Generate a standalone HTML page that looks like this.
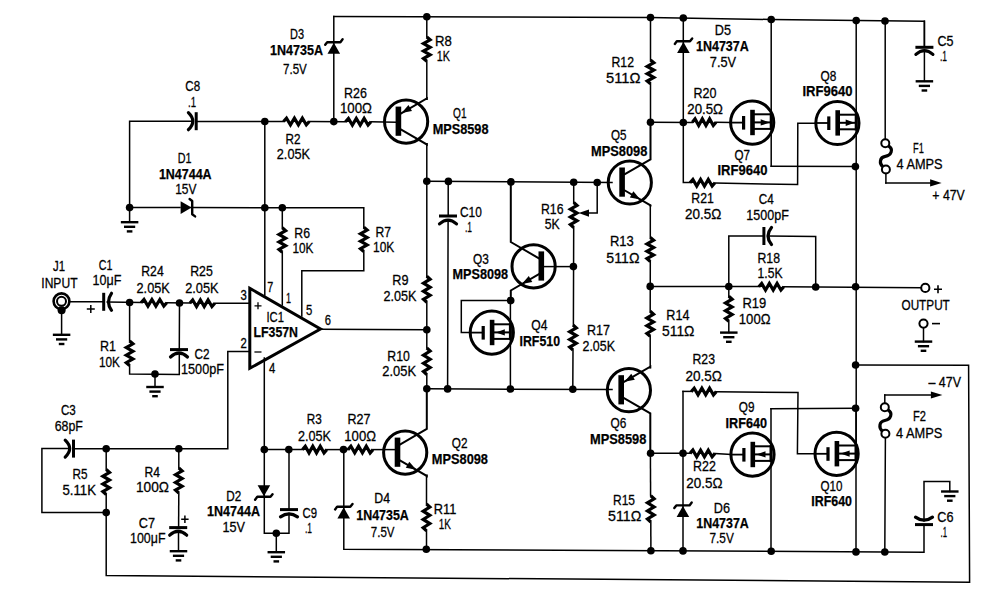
<!DOCTYPE html>
<html><head><meta charset="utf-8"><style>
html,body{margin:0;padding:0;background:#fff;}
body{width:1004px;height:596px;overflow:hidden;}
svg{display:block;}
text{font-family:"Liberation Sans",sans-serif;fill:#000;}
</style></head><body>
<svg width="1004" height="596" viewBox="0 0 1004 596">
<rect width="1004" height="596" fill="#fff"/>
<polyline points="333.8,16.5 496,17 650,17.5 771,19.5 924.4,21.2 924.4,47.3" fill="none" stroke="#000" stroke-width="1.5" stroke-linejoin="miter" stroke-linecap="square"/>
<polyline points="333.8,16.5 333.8,121.5" fill="none" stroke="#000" stroke-width="1.5" stroke-linejoin="miter" stroke-linecap="square"/>
<g transform="translate(333.8,42.8) rotate(-90)"><path d="M-11,-6.3 L0,0 L-11,6.3 Z"/><polyline points="-2,-8.6 0.6,-6.6 0.6,6.6 3.5,8.8" fill="none" stroke="#000" stroke-width="2.4" stroke-linejoin="round" stroke-linecap="round"/></g>
<circle cx="426.8" cy="16.8" r="3.8"/>
<circle cx="650.5" cy="17.6" r="3.8"/>
<circle cx="683.3" cy="18" r="3.8"/>
<circle cx="771.2" cy="19.5" r="3.8"/>
<circle cx="856.2" cy="20.6" r="3.8"/>
<circle cx="885" cy="21" r="3.8"/>
<polyline points="426.8,16.8 426.8,37" fill="none" stroke="#000" stroke-width="1.5" stroke-linejoin="miter" stroke-linecap="square"/>
<polyline points="426.8,37 430.1,39.8 423.5,43.54 430.1,47.28 423.5,51.02 430.1,54.76 423.5,58.5 426.8,61.3" fill="none" stroke="#000" stroke-width="3.2" stroke-linejoin="miter"/>
<polyline points="426.8,61.3 426.8,99" fill="none" stroke="#000" stroke-width="1.5" stroke-linejoin="miter" stroke-linecap="square"/>
<polyline points="129.6,207.6 129.6,121.2 192.4,121.2" fill="none" stroke="#000" stroke-width="1.5" stroke-linejoin="miter" stroke-linecap="square"/>
<line x1="196.2" y1="112.2" x2="196.2" y2="130.2" stroke="#000" stroke-width="3"/>
<path d="M188.4,112.7 Q197.2,121.2 188.4,129.7" fill="none" stroke="#000" stroke-width="3.2" stroke-linecap="round"/>
<polyline points="196.3,121.4 283.5,121.5" fill="none" stroke="#000" stroke-width="1.5" stroke-linejoin="miter" stroke-linecap="square"/>
<polyline points="283.5,121.5 286.48,118.2 290.45,124.8 294.42,118.2 298.38,124.8 302.35,118.2 306.32,124.8 309.3,121.5" fill="none" stroke="#000" stroke-width="3.2" stroke-linejoin="miter"/>
<polyline points="309.3,121.5 345.5,121.7" fill="none" stroke="#000" stroke-width="1.5" stroke-linejoin="miter" stroke-linecap="square"/>
<polyline points="345.5,121.7 348.44,118.4 352.37,125 356.29,118.4 360.21,125 364.13,118.4 368.06,125 371,121.7" fill="none" stroke="#000" stroke-width="3.2" stroke-linejoin="miter"/>
<polyline points="371,121.8 396,122.2" fill="none" stroke="#000" stroke-width="1.5" stroke-linejoin="miter" stroke-linecap="square"/>
<circle cx="264.8" cy="121.5" r="3.8"/>
<circle cx="333.8" cy="121.6" r="3.8"/>
<polyline points="129.6,207.6 180,207.6" fill="none" stroke="#000" stroke-width="1.5" stroke-linejoin="miter" stroke-linecap="square"/>
<g transform="translate(191.6,207.6) rotate(0)"><path d="M-11,-6.3 L0,0 L-11,6.3 Z"/><polyline points="-2,-8.6 0.6,-6.6 0.6,6.6 3.5,8.8" fill="none" stroke="#000" stroke-width="2.4" stroke-linejoin="round" stroke-linecap="round"/></g>
<polyline points="191,207.6 363.8,207.8 363.8,227.3" fill="none" stroke="#000" stroke-width="1.5" stroke-linejoin="miter" stroke-linecap="square"/>
<circle cx="129.6" cy="207.6" r="3.8"/>
<polyline points="129.6,207.6 129.6,222.2" fill="none" stroke="#000" stroke-width="1.5" stroke-linejoin="miter" stroke-linecap="square"/>
<line x1="120.85" y1="222.2" x2="138.35" y2="222.2" stroke="#000" stroke-width="2.4"/>
<line x1="124" y1="226.8" x2="135.2" y2="226.8" stroke="#000" stroke-width="2.4"/>
<line x1="126.8" y1="231.4" x2="132.4" y2="231.4" stroke="#000" stroke-width="2.4"/>
<circle cx="264.8" cy="207.8" r="3.8"/>
<circle cx="282.3" cy="207.8" r="3.8"/>
<polyline points="363.8,227.3 367.1,230.09 360.5,233.82 367.1,237.54 360.5,241.26 367.1,244.98 360.5,248.71 363.8,251.5" fill="none" stroke="#000" stroke-width="3.2" stroke-linejoin="miter"/>
<polyline points="363.8,251.5 363.8,270.8 301.8,270.8 301.8,316" fill="none" stroke="#000" stroke-width="1.5" stroke-linejoin="miter" stroke-linecap="square"/>
<polyline points="282.3,207.8 282.3,227.8" fill="none" stroke="#000" stroke-width="1.5" stroke-linejoin="miter" stroke-linecap="square"/>
<polyline points="282.3,227.8 285.6,230.63 279,234.4 285.6,238.17 279,241.93 285.6,245.7 279,249.47 282.3,252.3" fill="none" stroke="#000" stroke-width="3.2" stroke-linejoin="miter"/>
<polyline points="282.3,252.3 282.3,305" fill="none" stroke="#000" stroke-width="1.5" stroke-linejoin="miter" stroke-linecap="square"/>
<polyline points="264.8,121.5 264.8,295" fill="none" stroke="#000" stroke-width="1.5" stroke-linejoin="miter" stroke-linecap="square"/>
<path d="M249.8,288.3 L320.5,329 L249.8,368.3 Z" fill="none" stroke="#000" stroke-width="3" stroke-linejoin="miter"/>
<polyline points="320.5,329.3 426.8,329.8" fill="none" stroke="#000" stroke-width="1.5" stroke-linejoin="miter" stroke-linecap="square"/>
<circle cx="426.8" cy="329.8" r="3.8"/>
<polyline points="264.3,358 264.3,533.3 289,533.3 289,513.4" fill="none" stroke="#000" stroke-width="1.5" stroke-linejoin="miter" stroke-linecap="square"/>
<polyline points="289,449.6 289,509.6" fill="none" stroke="#000" stroke-width="1.5" stroke-linejoin="miter" stroke-linecap="square"/>
<line x1="280" y1="509.6" x2="298" y2="509.6" stroke="#000" stroke-width="3"/>
<path d="M280.5,516.9 Q289,510.7 297.5,516.9" fill="none" stroke="#000" stroke-width="3.2" stroke-linecap="round"/>
<circle cx="264.3" cy="449.6" r="3.8"/>
<circle cx="288.8" cy="449.6" r="3.8"/>
<circle cx="276.3" cy="533.3" r="3.8"/>
<polyline points="276.3,533.3 276.3,552.2" fill="none" stroke="#000" stroke-width="1.5" stroke-linejoin="miter" stroke-linecap="square"/>
<line x1="267.55" y1="552.2" x2="285.05" y2="552.2" stroke="#000" stroke-width="2.4"/>
<line x1="270.7" y1="556.8" x2="281.9" y2="556.8" stroke="#000" stroke-width="2.4"/>
<line x1="273.5" y1="561.4" x2="279.1" y2="561.4" stroke="#000" stroke-width="2.4"/>
<g transform="translate(263.9,496.2) rotate(90)"><path d="M-11,-6.3 L0,0 L-11,6.3 Z"/><polyline points="-2,-8.6 0.6,-6.6 0.6,6.6 3.5,8.8" fill="none" stroke="#000" stroke-width="2.4" stroke-linejoin="round" stroke-linecap="round"/></g>
<circle cx="61.5" cy="301.3" r="7.9" fill="none" stroke="#000" stroke-width="2.6"/>
<circle cx="61.5" cy="301.3" r="4.5" fill="none" stroke="#000" stroke-width="2"/>
<circle cx="61.6" cy="310.2" r="4"/>
<polyline points="61.6,310 61.6,334.8" fill="none" stroke="#000" stroke-width="1.5" stroke-linejoin="miter" stroke-linecap="square"/>
<line x1="52.85" y1="334.8" x2="70.35" y2="334.8" stroke="#000" stroke-width="2.4"/>
<line x1="56" y1="339.4" x2="67.2" y2="339.4" stroke="#000" stroke-width="2.4"/>
<line x1="58.8" y1="344" x2="64.4" y2="344" stroke="#000" stroke-width="2.4"/>
<polyline points="69.5,301.7 103.3,301.8" fill="none" stroke="#000" stroke-width="1.5" stroke-linejoin="miter" stroke-linecap="square"/>
<line x1="103.7" y1="292.8" x2="103.7" y2="310.8" stroke="#000" stroke-width="3"/>
<path d="M111.5,293.3 Q105.5,301.8 111.5,310.3" fill="none" stroke="#000" stroke-width="3.2" stroke-linecap="round"/>
<polyline points="107.2,302 141,302.6" fill="none" stroke="#000" stroke-width="1.5" stroke-linejoin="miter" stroke-linecap="square"/>
<polyline points="141,302.8 143.98,299.5 147.95,306.1 151.92,299.5 155.88,306.1 159.85,299.5 163.82,306.1 166.8,302.8" fill="none" stroke="#000" stroke-width="3.2" stroke-linejoin="miter"/>
<polyline points="166.8,302.8 189.8,303.1" fill="none" stroke="#000" stroke-width="1.5" stroke-linejoin="miter" stroke-linecap="square"/>
<polyline points="189.8,303.2 192.68,299.9 196.53,306.5 200.38,299.9 204.22,306.5 208.07,299.9 211.92,306.5 214.8,303.2" fill="none" stroke="#000" stroke-width="3.2" stroke-linejoin="miter"/>
<polyline points="214.8,303.2 249.8,303.3" fill="none" stroke="#000" stroke-width="1.5" stroke-linejoin="miter" stroke-linecap="square"/>
<circle cx="129.6" cy="302.5" r="3.8"/>
<circle cx="179.5" cy="303" r="3.8"/>
<polyline points="129.6,302.5 129.6,341" fill="none" stroke="#000" stroke-width="1.5" stroke-linejoin="miter" stroke-linecap="square"/>
<polyline points="129.6,341 132.9,343.83 126.3,347.6 132.9,351.37 126.3,355.13 132.9,358.9 126.3,362.67 129.6,365.5" fill="none" stroke="#000" stroke-width="3.2" stroke-linejoin="miter"/>
<polyline points="129.6,365.5 129.6,374 179.3,374.5 179.3,353.4" fill="none" stroke="#000" stroke-width="1.5" stroke-linejoin="miter" stroke-linecap="square"/>
<circle cx="155" cy="374" r="3.8"/>
<polyline points="155,374 155,387" fill="none" stroke="#000" stroke-width="1.5" stroke-linejoin="miter" stroke-linecap="square"/>
<line x1="146.25" y1="387" x2="163.75" y2="387" stroke="#000" stroke-width="2.4"/>
<line x1="149.4" y1="391.6" x2="160.6" y2="391.6" stroke="#000" stroke-width="2.4"/>
<line x1="152.2" y1="396.2" x2="157.8" y2="396.2" stroke="#000" stroke-width="2.4"/>
<polyline points="179.5,303 179.3,349.6" fill="none" stroke="#000" stroke-width="1.5" stroke-linejoin="miter" stroke-linecap="square"/>
<line x1="170" y1="349.6" x2="188" y2="349.6" stroke="#000" stroke-width="3"/>
<path d="M170.5,357 Q179,349 187.5,357" fill="none" stroke="#000" stroke-width="3.2" stroke-linecap="round"/>
<polyline points="249.8,351.6 227.8,351.6 227.8,448.8 73.5,448.8" fill="none" stroke="#000" stroke-width="1.5" stroke-linejoin="miter" stroke-linecap="square"/>
<line x1="73.5" y1="439.6" x2="73.5" y2="457.6" stroke="#000" stroke-width="3"/>
<path d="M65.2,440.1 Q74.2,448.6 65.2,457.1" fill="none" stroke="#000" stroke-width="3.2" stroke-linecap="round"/>
<polyline points="69.7,448.6 41.9,448.6 41.9,512.6 106.2,512.6" fill="none" stroke="#000" stroke-width="1.5" stroke-linejoin="miter" stroke-linecap="square"/>
<circle cx="106.2" cy="448.8" r="3.8"/>
<circle cx="178.8" cy="448.8" r="3.8"/>
<circle cx="106.2" cy="512.6" r="3.8"/>
<polyline points="106.2,448.8 106.2,469.5" fill="none" stroke="#000" stroke-width="1.5" stroke-linejoin="miter" stroke-linecap="square"/>
<polyline points="106.2,469.5 109.5,472.38 102.9,476.23 109.5,480.08 102.9,483.92 109.5,487.77 102.9,491.62 106.2,494.5" fill="none" stroke="#000" stroke-width="3.2" stroke-linejoin="miter"/>
<polyline points="106.2,494.5 106.2,575.5 969.6,582.2 968.6,365.3 855.6,365" fill="none" stroke="#000" stroke-width="1.5" stroke-linejoin="miter" stroke-linecap="square"/>
<polyline points="178.8,448.8 178.8,468" fill="none" stroke="#000" stroke-width="1.5" stroke-linejoin="miter" stroke-linecap="square"/>
<polyline points="178.8,468 182.1,470.88 175.5,474.73 182.1,478.58 175.5,482.42 182.1,486.27 175.5,490.12 178.8,493" fill="none" stroke="#000" stroke-width="3.2" stroke-linejoin="miter"/>
<polyline points="178.8,493 178.6,527.6" fill="none" stroke="#000" stroke-width="1.5" stroke-linejoin="miter" stroke-linecap="square"/>
<line x1="169.2" y1="527.6" x2="187.2" y2="527.6" stroke="#000" stroke-width="3"/>
<path d="M169.7,535.2 Q178.2,527.2 186.7,535.2" fill="none" stroke="#000" stroke-width="3.2" stroke-linecap="round"/>
<polyline points="178.5,531.4 178.5,551" fill="none" stroke="#000" stroke-width="1.5" stroke-linejoin="miter" stroke-linecap="square"/>
<line x1="169.75" y1="551.2" x2="187.25" y2="551.2" stroke="#000" stroke-width="2.4"/>
<line x1="172.9" y1="555.8" x2="184.1" y2="555.8" stroke="#000" stroke-width="2.4"/>
<line x1="175.7" y1="560.4" x2="181.3" y2="560.4" stroke="#000" stroke-width="2.4"/>
<polyline points="264.3,449.6 302.5,449.6" fill="none" stroke="#000" stroke-width="1.5" stroke-linejoin="miter" stroke-linecap="square"/>
<polyline points="302.5,449.6 305.3,446.3 309.04,452.9 312.78,446.3 316.52,452.9 320.26,446.3 324,452.9 326.8,449.6" fill="none" stroke="#000" stroke-width="3.2" stroke-linejoin="miter"/>
<polyline points="326.8,449.6 348,449.6" fill="none" stroke="#000" stroke-width="1.5" stroke-linejoin="miter" stroke-linecap="square"/>
<polyline points="348,449.6 350.88,446.3 354.73,452.9 358.58,446.3 362.42,452.9 366.27,446.3 370.12,452.9 373,449.6" fill="none" stroke="#000" stroke-width="3.2" stroke-linejoin="miter"/>
<polyline points="373,449.6 396,449.6" fill="none" stroke="#000" stroke-width="1.5" stroke-linejoin="miter" stroke-linecap="square"/>
<circle cx="343.5" cy="449.6" r="3.8"/>
<polyline points="343.8,449.6 343.8,549.2 924,552.2 924,526" fill="none" stroke="#000" stroke-width="1.5" stroke-linejoin="miter" stroke-linecap="square"/>
<g transform="translate(343.7,507.4) rotate(-90)"><path d="M-11,-6.3 L0,0 L-11,6.3 Z"/><polyline points="-2,-8.6 0.6,-6.6 0.6,6.6 3.5,8.8" fill="none" stroke="#000" stroke-width="2.4" stroke-linejoin="round" stroke-linecap="round"/></g>
<circle cx="426.3" cy="549.2" r="3.8"/>
<circle cx="405.2" cy="452.6" r="21.6" fill="none" stroke="#000" stroke-width="3"/>
<rect x="394.7" y="437.6" width="5.6" height="29.2" />
<polyline points="400.3,444.3 426.8,428.93 426.8,388.8" fill="none" stroke="#000" stroke-width="2" stroke-linejoin="miter" stroke-linecap="square"/>
<polyline points="400.3,460.6 426.8,475.97 426.8,475.5" fill="none" stroke="#000" stroke-width="2" stroke-linejoin="miter" stroke-linecap="square"/>
<path d="M416.2,469.82 L405.79,467.83 L409.31,461.78 Z"/>
<polyline points="426.5,475.5 426.5,504" fill="none" stroke="#000" stroke-width="1.5" stroke-linejoin="miter" stroke-linecap="square"/>
<polyline points="426.5,504 429.8,507.09 423.2,511.22 429.8,515.34 423.2,519.46 429.8,523.58 423.2,527.71 426.5,530.8" fill="none" stroke="#000" stroke-width="3.2" stroke-linejoin="miter"/>
<polyline points="426.5,530.8 426.5,549.2" fill="none" stroke="#000" stroke-width="1.5" stroke-linejoin="miter" stroke-linecap="square"/>
<circle cx="406.1" cy="121.6" r="21.6" fill="none" stroke="#000" stroke-width="3"/>
<rect x="395.6" y="106.6" width="5.6" height="29.2" />
<polyline points="401.2,113.3 426.8,98.45 426.8,99" fill="none" stroke="#000" stroke-width="2" stroke-linejoin="miter" stroke-linecap="square"/>
<polyline points="401.2,129.6 426.8,144.45 426.8,144" fill="none" stroke="#000" stroke-width="2" stroke-linejoin="miter" stroke-linecap="square"/>
<path d="M401.58,113.08 L411.99,111.09 L408.48,105.03 Z"/>
<polyline points="426.8,144 426.8,276.2" fill="none" stroke="#000" stroke-width="1.5" stroke-linejoin="miter" stroke-linecap="square"/>
<polyline points="426.8,276.2 430.1,279.21 423.5,283.23 430.1,287.24 423.5,291.26 430.1,295.27 423.5,299.29 426.8,302.3" fill="none" stroke="#000" stroke-width="3.2" stroke-linejoin="miter"/>
<polyline points="426.8,302.3 426.8,348" fill="none" stroke="#000" stroke-width="1.5" stroke-linejoin="miter" stroke-linecap="square"/>
<polyline points="426.8,348 430.1,351.07 423.5,355.16 430.1,359.25 423.5,363.35 430.1,367.44 423.5,371.53 426.8,374.6" fill="none" stroke="#000" stroke-width="3.2" stroke-linejoin="miter"/>
<polyline points="426.8,374.6 426.8,388.8" fill="none" stroke="#000" stroke-width="1.5" stroke-linejoin="miter" stroke-linecap="square"/>
<circle cx="426.8" cy="181.2" r="3.8"/>
<circle cx="426.8" cy="388.8" r="3.8"/>
<polyline points="426.8,181.2 612,182.6" fill="none" stroke="#000" stroke-width="1.5" stroke-linejoin="miter" stroke-linecap="square"/>
<circle cx="448.4" cy="181.4" r="3.8"/>
<circle cx="510.9" cy="181.9" r="3.8"/>
<circle cx="573.7" cy="182.3" r="3.8"/>
<circle cx="597.2" cy="182.5" r="3.8"/>
<polyline points="448.2,181.3 448.2,216.2" fill="none" stroke="#000" stroke-width="1.5" stroke-linejoin="miter" stroke-linecap="square"/>
<line x1="439" y1="216" x2="457" y2="216" stroke="#000" stroke-width="3"/>
<path d="M439.5,223.9 Q448,216.3 456.5,223.9" fill="none" stroke="#000" stroke-width="3.2" stroke-linecap="round"/>
<polyline points="448.1,220 447.6,388.8" fill="none" stroke="#000" stroke-width="1.5" stroke-linejoin="miter" stroke-linecap="square"/>
<polyline points="426.8,388.8 612,389.6" fill="none" stroke="#000" stroke-width="1.5" stroke-linejoin="miter" stroke-linecap="square"/>
<circle cx="447.6" cy="388.9" r="3.8"/>
<circle cx="510.4" cy="389" r="3.8"/>
<circle cx="572.8" cy="389.2" r="3.8"/>
<circle cx="533.6" cy="266.4" r="21.6" fill="none" stroke="#000" stroke-width="3"/>
<rect x="538.5" y="251.4" width="5.6" height="29.2" />
<polyline points="538.5,258.1 510.8,242.03 510.8,181.3" fill="none" stroke="#000" stroke-width="2" stroke-linejoin="miter" stroke-linecap="square"/>
<polyline points="538.5,274.4 510.8,290.47 510.8,300.6" fill="none" stroke="#000" stroke-width="2" stroke-linejoin="miter" stroke-linecap="square"/>
<path d="M521.88,284.04 L528.77,275.99 L532.29,282.05 Z"/>
<polyline points="544,266.6 573.5,266.6" fill="none" stroke="#000" stroke-width="1.5" stroke-linejoin="miter" stroke-linecap="square"/>
<circle cx="573.4" cy="266.6" r="3.8"/>
<circle cx="510.7" cy="300.6" r="3.8"/>
<polyline points="573.7,182.3 573.7,202.5" fill="none" stroke="#000" stroke-width="1.5" stroke-linejoin="miter" stroke-linecap="square"/>
<polyline points="573.7,202.5 577,205.38 570.4,209.23 577,213.08 570.4,216.92 577,220.77 570.4,224.62 573.7,227.5" fill="none" stroke="#000" stroke-width="3.2" stroke-linejoin="miter"/>
<polyline points="573.7,227.5 573.4,325" fill="none" stroke="#000" stroke-width="1.5" stroke-linejoin="miter" stroke-linecap="square"/>
<polyline points="573,325 576.3,327.88 569.7,331.73 576.3,335.58 569.7,339.42 576.3,343.27 569.7,347.12 573,350" fill="none" stroke="#000" stroke-width="3.2" stroke-linejoin="miter"/>
<polyline points="573,350 572.8,389.2" fill="none" stroke="#000" stroke-width="1.5" stroke-linejoin="miter" stroke-linecap="square"/>
<polyline points="597.2,182.5 597.2,213.1 586,213.1" fill="none" stroke="#000" stroke-width="1.5" stroke-linejoin="miter" stroke-linecap="square"/>
<path d="M578.6,213.1 L589,209.4 L589,216.8 Z"/>
<polyline points="510.7,300.6 461.3,300.6 461.3,332.6 470.5,332.6" fill="none" stroke="#000" stroke-width="1.5" stroke-linejoin="miter" stroke-linecap="square"/>
<circle cx="491.8" cy="332.6" r="21.6" fill="none" stroke="#000" stroke-width="3"/>
<polyline points="470.2,332.6 483.2,332.6" fill="none" stroke="#000" stroke-width="1.8" stroke-linejoin="miter" stroke-linecap="square"/>
<rect x="481.6" y="326" width="3.2" height="13.6"/>
<rect x="489.8" y="319.8" width="4.6" height="25.4"/>
<polyline points="493.8,324.3 510.4,324.3" fill="none" stroke="#000" stroke-width="2" stroke-linejoin="miter" stroke-linecap="square"/>
<polyline points="493.8,332.4 510.4,332.4" fill="none" stroke="#000" stroke-width="2" stroke-linejoin="miter" stroke-linecap="square"/>
<polyline points="493.8,338.9 510.4,338.9" fill="none" stroke="#000" stroke-width="2" stroke-linejoin="miter" stroke-linecap="square"/>
<polyline points="510.4,300.6 510.4,389" fill="none" stroke="#000" stroke-width="1.5" stroke-linejoin="miter" stroke-linecap="square"/>
<line x1="510.4" y1="323.1" x2="510.4" y2="340.1" stroke="#000" stroke-width="3"/>
<path d="M495.8,332.4 L504.8,329.2 L504.8,335.6 Z"/>
<circle cx="629.8" cy="182.5" r="21.6" fill="none" stroke="#000" stroke-width="3"/>
<rect x="619.3" y="167.5" width="5.6" height="29.2" />
<polyline points="624.9,174.2 650.5,159.35 650.5,121.8" fill="none" stroke="#000" stroke-width="2" stroke-linejoin="miter" stroke-linecap="square"/>
<polyline points="624.9,190.5 650.5,205.35 650.5,205.5" fill="none" stroke="#000" stroke-width="2" stroke-linejoin="miter" stroke-linecap="square"/>
<path d="M640.26,199.41 L629.85,197.42 L633.37,191.36 Z"/>
<polyline points="650.5,17.6 650.5,60" fill="none" stroke="#000" stroke-width="1.5" stroke-linejoin="miter" stroke-linecap="square"/>
<polyline points="650.5,60 653.8,62.75 647.2,66.41 653.8,70.07 647.2,73.73 653.8,77.39 647.2,81.05 650.5,83.8" fill="none" stroke="#000" stroke-width="3.2" stroke-linejoin="miter"/>
<polyline points="650.5,83.8 650.5,121.8" fill="none" stroke="#000" stroke-width="1.5" stroke-linejoin="miter" stroke-linecap="square"/>
<circle cx="650.5" cy="122.3" r="3.8"/>
<circle cx="683.3" cy="122.5" r="3.8"/>
<polyline points="650.3,205.5 650.3,237.5" fill="none" stroke="#000" stroke-width="1.5" stroke-linejoin="miter" stroke-linecap="square"/>
<polyline points="650.3,237.5 653.6,240.26 647,243.93 653.6,247.61 647,251.29 653.6,254.97 647,258.64 650.3,261.4" fill="none" stroke="#000" stroke-width="3.2" stroke-linejoin="miter"/>
<polyline points="650.3,261.4 650.2,311.3" fill="none" stroke="#000" stroke-width="1.5" stroke-linejoin="miter" stroke-linecap="square"/>
<polyline points="650.2,311.3 653.5,314.18 646.9,318.03 653.5,321.88 646.9,325.72 653.5,329.57 646.9,333.42 650.2,336.3" fill="none" stroke="#000" stroke-width="3.2" stroke-linejoin="miter"/>
<polyline points="650.2,336.3 650.2,367.5" fill="none" stroke="#000" stroke-width="1.5" stroke-linejoin="miter" stroke-linecap="square"/>
<circle cx="650.2" cy="286.4" r="3.8"/>
<circle cx="628.9" cy="390.2" r="21.6" fill="none" stroke="#000" stroke-width="3"/>
<rect x="618.4" y="375.2" width="5.6" height="29.2" />
<polyline points="624,381.9 650.3,366.65 650.3,367.5" fill="none" stroke="#000" stroke-width="2" stroke-linejoin="miter" stroke-linecap="square"/>
<polyline points="624,398.2 650.3,413.45 650.3,453.2" fill="none" stroke="#000" stroke-width="2" stroke-linejoin="miter" stroke-linecap="square"/>
<path d="M624.39,381.67 L634.8,379.68 L631.29,373.63 Z"/>
<polyline points="650.4,453.2 650.6,495.8" fill="none" stroke="#000" stroke-width="1.5" stroke-linejoin="miter" stroke-linecap="square"/>
<polyline points="650.8,495.8 654.1,498.82 647.5,502.85 654.1,506.88 647.5,510.92 654.1,514.95 647.5,518.98 650.8,522" fill="none" stroke="#000" stroke-width="3.2" stroke-linejoin="miter"/>
<polyline points="650.8,522 650.9,550.8" fill="none" stroke="#000" stroke-width="1.5" stroke-linejoin="miter" stroke-linecap="square"/>
<circle cx="650.6" cy="453.2" r="3.8"/>
<circle cx="650.9" cy="550.8" r="3.8"/>
<polyline points="650.5,122.3 692.3,122.5" fill="none" stroke="#000" stroke-width="1.5" stroke-linejoin="miter" stroke-linecap="square"/>
<polyline points="692.3,122.2 695.03,118.9 698.68,125.5 702.33,118.9 705.97,125.5 709.62,118.9 713.27,125.5 716,122.2" fill="none" stroke="#000" stroke-width="3.2" stroke-linejoin="miter"/>
<polyline points="716,122.2 731,122.4" fill="none" stroke="#000" stroke-width="1.5" stroke-linejoin="miter" stroke-linecap="square"/>
<polyline points="683.3,18 683.3,182.6 690,182.6" fill="none" stroke="#000" stroke-width="1.5" stroke-linejoin="miter" stroke-linecap="square"/>
<g transform="translate(683.4,41.9) rotate(-90)"><path d="M-11,-6.3 L0,0 L-11,6.3 Z"/><polyline points="-2,-8.6 0.6,-6.6 0.6,6.6 3.5,8.8" fill="none" stroke="#000" stroke-width="2.4" stroke-linejoin="round" stroke-linecap="round"/></g>
<polyline points="690,182.8 692.88,179.5 696.73,186.1 700.58,179.5 704.42,186.1 708.27,179.5 712.12,186.1 715,182.8" fill="none" stroke="#000" stroke-width="3.2" stroke-linejoin="miter"/>
<polyline points="715,183 797.6,184.6 797.8,123.2 816,123.2" fill="none" stroke="#000" stroke-width="1.5" stroke-linejoin="miter" stroke-linecap="square"/>
<circle cx="752.2" cy="122.6" r="21.6" fill="none" stroke="#000" stroke-width="3"/>
<polyline points="730.8,122.6 743.6,122.6" fill="none" stroke="#000" stroke-width="1.8" stroke-linejoin="miter" stroke-linecap="square"/>
<rect x="742" y="116" width="3.2" height="13.6"/>
<rect x="750.2" y="109.8" width="4.6" height="25.4"/>
<polyline points="754.2,114.3 771.2,114.3" fill="none" stroke="#000" stroke-width="2" stroke-linejoin="miter" stroke-linecap="square"/>
<polyline points="754.2,122.4 771.2,122.4" fill="none" stroke="#000" stroke-width="2" stroke-linejoin="miter" stroke-linecap="square"/>
<polyline points="754.2,128.9 771.2,128.9" fill="none" stroke="#000" stroke-width="2" stroke-linejoin="miter" stroke-linecap="square"/>
<polyline points="771.2,19.5 771.2,166.3" fill="none" stroke="#000" stroke-width="1.5" stroke-linejoin="miter" stroke-linecap="square"/>
<line x1="771.2" y1="113.1" x2="771.2" y2="130.1" stroke="#000" stroke-width="3"/>
<path d="M769.6,122.4 L760.7,119.2 L760.7,125.6 Z"/>
<polyline points="771.2,166.3 855.4,166.6" fill="none" stroke="#000" stroke-width="1.5" stroke-linejoin="miter" stroke-linecap="square"/>
<circle cx="855.4" cy="166.6" r="3.8"/>
<circle cx="837.4" cy="123" r="21.6" fill="none" stroke="#000" stroke-width="3"/>
<polyline points="815.8,123 828.8,123" fill="none" stroke="#000" stroke-width="1.8" stroke-linejoin="miter" stroke-linecap="square"/>
<rect x="827.2" y="116.4" width="3.2" height="13.6"/>
<rect x="835.4" y="110.2" width="4.6" height="25.4"/>
<polyline points="839.4,114.7 856.2,114.7" fill="none" stroke="#000" stroke-width="2" stroke-linejoin="miter" stroke-linecap="square"/>
<polyline points="839.4,122.8 856.2,122.8" fill="none" stroke="#000" stroke-width="2" stroke-linejoin="miter" stroke-linecap="square"/>
<polyline points="839.4,129.3 856.2,129.3" fill="none" stroke="#000" stroke-width="2" stroke-linejoin="miter" stroke-linecap="square"/>
<polyline points="856.2,20.6 856.2,453.8" fill="none" stroke="#000" stroke-width="1.5" stroke-linejoin="miter" stroke-linecap="square"/>
<line x1="856.2" y1="113.5" x2="856.2" y2="130.5" stroke="#000" stroke-width="3"/>
<path d="M854.6,122.8 L845.7,119.6 L845.7,126 Z"/>
<circle cx="855.6" cy="286.8" r="3.8"/>
<circle cx="855.6" cy="365" r="3.8"/>
<circle cx="855.6" cy="408.3" r="3.8"/>
<polyline points="650.2,286.4 758.8,286.6" fill="none" stroke="#000" stroke-width="1.5" stroke-linejoin="miter" stroke-linecap="square"/>
<polyline points="758.8,286.8 761.68,283.5 765.53,290.1 769.38,283.5 773.22,290.1 777.07,283.5 780.92,290.1 783.8,286.8" fill="none" stroke="#000" stroke-width="3.2" stroke-linejoin="miter"/>
<polyline points="783.8,286.8 921,287.8" fill="none" stroke="#000" stroke-width="1.5" stroke-linejoin="miter" stroke-linecap="square"/>
<circle cx="728.8" cy="286.5" r="3.8"/>
<circle cx="815.7" cy="287" r="3.8"/>
<polyline points="728.8,286.5 728.8,236 764,236" fill="none" stroke="#000" stroke-width="1.5" stroke-linejoin="miter" stroke-linecap="square"/>
<line x1="763.9" y1="227" x2="763.9" y2="245" stroke="#000" stroke-width="3"/>
<path d="M771.5,227.5 Q764.5,236 771.5,244.5" fill="none" stroke="#000" stroke-width="3.2" stroke-linecap="round"/>
<polyline points="768,236 815.7,236.5 815.7,287" fill="none" stroke="#000" stroke-width="1.5" stroke-linejoin="miter" stroke-linecap="square"/>
<polyline points="728.8,286.5 728.8,296.3" fill="none" stroke="#000" stroke-width="1.5" stroke-linejoin="miter" stroke-linecap="square"/>
<polyline points="728.8,296.3 732.1,299.18 725.5,303.03 732.1,306.88 725.5,310.72 732.1,314.57 725.5,318.42 728.8,321.3" fill="none" stroke="#000" stroke-width="3.2" stroke-linejoin="miter"/>
<polyline points="728.8,321.3 728.8,332.6" fill="none" stroke="#000" stroke-width="1.5" stroke-linejoin="miter" stroke-linecap="square"/>
<line x1="720.05" y1="332.6" x2="737.55" y2="332.6" stroke="#000" stroke-width="2.4"/>
<line x1="723.2" y1="337.2" x2="734.4" y2="337.2" stroke="#000" stroke-width="2.4"/>
<line x1="726" y1="341.8" x2="731.6" y2="341.8" stroke="#000" stroke-width="2.4"/>
<circle cx="925.3" cy="287.9" r="4.1" fill="#fff" stroke="#000" stroke-width="2"/>
<polyline points="923.5,327.6 923.5,341.6" fill="none" stroke="#000" stroke-width="1.5" stroke-linejoin="miter" stroke-linecap="square"/>
<circle cx="923.5" cy="323.6" r="4.1" fill="#fff" stroke="#000" stroke-width="2"/>
<line x1="914.75" y1="341.6" x2="932.25" y2="341.6" stroke="#000" stroke-width="2.4"/>
<line x1="917.9" y1="346.2" x2="929.1" y2="346.2" stroke="#000" stroke-width="2.4"/>
<line x1="920.7" y1="350.8" x2="926.3" y2="350.8" stroke="#000" stroke-width="2.4"/>
<polyline points="885.2,21 885.2,139" fill="none" stroke="#000" stroke-width="1.5" stroke-linejoin="miter" stroke-linecap="square"/>
<circle cx="885.3" cy="143.3" r="4.0" fill="#fff" stroke="#000" stroke-width="2"/>
<circle cx="885.9" cy="169.5" r="4.0" fill="#fff" stroke="#000" stroke-width="2"/>
<path d="M888.5,145.9 C893.8,149.3 891.3,155.4 885.3,156.4 C879.3,157.4 879.3,163.5 882.7,166.7" fill="none" stroke="#000" stroke-width="3.2"/>
<polyline points="885.9,173.5 885.9,182.9" fill="none" stroke="#000" stroke-width="1.5" stroke-linejoin="miter" stroke-linecap="square"/>
<polyline points="885.9,182.9 932.6,182.9" fill="none" stroke="#000" stroke-width="1.5" stroke-linejoin="miter" stroke-linecap="square"/>
<path d="M941.6,182.9 L930.1,179.3 L930.1,186.5 Z"/>
<polyline points="924.4,21.2 924.4,47.3" fill="none" stroke="#000" stroke-width="1.5" stroke-linejoin="miter" stroke-linecap="square"/>
<line x1="915.4" y1="47.3" x2="933.4" y2="47.3" stroke="#000" stroke-width="3"/>
<path d="M915.9,54.4 Q924.4,46.8 932.9,54.4" fill="none" stroke="#000" stroke-width="3.2" stroke-linecap="round"/>
<polyline points="924.4,50.6 924.4,81.3" fill="none" stroke="#000" stroke-width="1.5" stroke-linejoin="miter" stroke-linecap="square"/>
<line x1="915.65" y1="81.3" x2="933.15" y2="81.3" stroke="#000" stroke-width="2.4"/>
<line x1="918.8" y1="85.9" x2="930" y2="85.9" stroke="#000" stroke-width="2.4"/>
<line x1="921.6" y1="90.5" x2="927.2" y2="90.5" stroke="#000" stroke-width="2.4"/>
<polyline points="884.8,395 933.4,395" fill="none" stroke="#000" stroke-width="1.5" stroke-linejoin="miter" stroke-linecap="square"/>
<path d="M942.4,395 L930.9,391.4 L930.9,398.6 Z"/>
<polyline points="884.8,395 884.8,403" fill="none" stroke="#000" stroke-width="1.5" stroke-linejoin="miter" stroke-linecap="square"/>
<circle cx="884.8" cy="407.2" r="4.0" fill="#fff" stroke="#000" stroke-width="2"/>
<circle cx="885.4" cy="433.8" r="4.0" fill="#fff" stroke="#000" stroke-width="2"/>
<path d="M888,409.8 C893.3,413.2 890.8,419.5 884.8,420.5 C878.8,421.5 878.8,427.8 882.2,431" fill="none" stroke="#000" stroke-width="3.2"/>
<polyline points="885.4,437.8 884.8,552" fill="none" stroke="#000" stroke-width="1.5" stroke-linejoin="miter" stroke-linecap="square"/>
<circle cx="884.8" cy="552" r="3.8"/>
<circle cx="856" cy="551.9" r="3.8"/>
<circle cx="771.2" cy="551.3" r="3.8"/>
<circle cx="683" cy="550.9" r="3.8"/>
<polyline points="683,391.4 691.3,391.4" fill="none" stroke="#000" stroke-width="1.5" stroke-linejoin="miter" stroke-linecap="square"/>
<polyline points="691.3,391.6 694.18,388.3 698.03,394.9 701.88,388.3 705.72,394.9 709.57,388.3 713.42,394.9 716.3,391.6" fill="none" stroke="#000" stroke-width="3.2" stroke-linejoin="miter"/>
<polyline points="716.3,391.8 798,392.6 797.4,453.8 814,453.8" fill="none" stroke="#000" stroke-width="1.5" stroke-linejoin="miter" stroke-linecap="square"/>
<polyline points="650.6,453.2 690,453.2" fill="none" stroke="#000" stroke-width="1.5" stroke-linejoin="miter" stroke-linecap="square"/>
<polyline points="690,453.4 692.88,450.1 696.73,456.7 700.58,450.1 704.42,456.7 708.27,450.1 712.12,456.7 715,453.4" fill="none" stroke="#000" stroke-width="3.2" stroke-linejoin="miter"/>
<polyline points="715,453.5 731,454.5" fill="none" stroke="#000" stroke-width="1.5" stroke-linejoin="miter" stroke-linecap="square"/>
<polyline points="683,391.4 683,550.9" fill="none" stroke="#000" stroke-width="1.5" stroke-linejoin="miter" stroke-linecap="square"/>
<circle cx="683" cy="453.2" r="3.8"/>
<g transform="translate(682.9,506) rotate(-90)"><path d="M-11,-6.3 L0,0 L-11,6.3 Z"/><polyline points="-2,-8.6 0.6,-6.6 0.6,6.6 3.5,8.8" fill="none" stroke="#000" stroke-width="2.4" stroke-linejoin="round" stroke-linecap="round"/></g>
<polyline points="771,408.8 855.6,408.3" fill="none" stroke="#000" stroke-width="1.5" stroke-linejoin="miter" stroke-linecap="square"/>
<circle cx="752.5" cy="454.6" r="21.6" fill="none" stroke="#000" stroke-width="3"/>
<polyline points="730.8,454.6 743.9,454.6" fill="none" stroke="#000" stroke-width="1.8" stroke-linejoin="miter" stroke-linecap="square"/>
<rect x="742.3" y="448" width="3.2" height="13.6"/>
<rect x="750.5" y="441.8" width="4.6" height="25.4"/>
<polyline points="754.5,446.3 771,446.3" fill="none" stroke="#000" stroke-width="2" stroke-linejoin="miter" stroke-linecap="square"/>
<polyline points="754.5,454.4 771,454.4" fill="none" stroke="#000" stroke-width="2" stroke-linejoin="miter" stroke-linecap="square"/>
<polyline points="754.5,460.9 771,460.9" fill="none" stroke="#000" stroke-width="2" stroke-linejoin="miter" stroke-linecap="square"/>
<polyline points="771,408.8 771,551.3" fill="none" stroke="#000" stroke-width="1.5" stroke-linejoin="miter" stroke-linecap="square"/>
<line x1="771" y1="445.1" x2="771" y2="462.1" stroke="#000" stroke-width="3"/>
<path d="M756.5,454.4 L765.5,451.2 L765.5,457.6 Z"/>
<circle cx="836.6" cy="453.8" r="21.6" fill="none" stroke="#000" stroke-width="3"/>
<polyline points="814.8,453.8 828,453.8" fill="none" stroke="#000" stroke-width="1.8" stroke-linejoin="miter" stroke-linecap="square"/>
<rect x="826.4" y="447.2" width="3.2" height="13.6"/>
<rect x="834.6" y="441" width="4.6" height="25.4"/>
<polyline points="838.6,445.5 856,445.5" fill="none" stroke="#000" stroke-width="2" stroke-linejoin="miter" stroke-linecap="square"/>
<polyline points="838.6,453.6 856,453.6" fill="none" stroke="#000" stroke-width="2" stroke-linejoin="miter" stroke-linecap="square"/>
<polyline points="838.6,460.1 856,460.1" fill="none" stroke="#000" stroke-width="2" stroke-linejoin="miter" stroke-linecap="square"/>
<polyline points="856,408.3 856,551.9" fill="none" stroke="#000" stroke-width="1.5" stroke-linejoin="miter" stroke-linecap="square"/>
<line x1="856" y1="444.3" x2="856" y2="461.3" stroke="#000" stroke-width="3"/>
<path d="M840.6,453.6 L849.6,450.4 L849.6,456.8 Z"/>
<line x1="915" y1="524.6" x2="933" y2="524.6" stroke="#000" stroke-width="3"/>
<path d="M915.5,517.1 Q924,523.3 932.5,517.1" fill="none" stroke="#000" stroke-width="3.2" stroke-linecap="round"/>
<polyline points="924,520.8 924,481.6 949.8,481.6 949.8,491.5" fill="none" stroke="#000" stroke-width="1.5" stroke-linejoin="miter" stroke-linecap="square"/>
<line x1="941.05" y1="491.5" x2="958.55" y2="491.5" stroke="#000" stroke-width="2.4"/>
<line x1="944.2" y1="496.1" x2="955.4" y2="496.1" stroke="#000" stroke-width="2.4"/>
<line x1="947" y1="500.7" x2="952.6" y2="500.7" stroke="#000" stroke-width="2.4"/>
<path d="M86.8,309.1 H94.8 M90.8,305.1 V313.1" stroke="#000" stroke-width="1.5"/>
<path d="M181.2,519.3 H188.6 M184.9,515.6 V523" stroke="#000" stroke-width="1.5"/>
<path d="M254.5,305.8 H261.5 M258,302.3 V309.3" stroke="#000" stroke-width="1.3"/>
<path d="M254.5,352 H261.5" stroke="#000" stroke-width="1.3"/>
<path d="M934,289.2 H942 M938,285.2 V293.2" stroke="#000" stroke-width="1.6"/>
<path d="M932,323.6 H940" stroke="#000" stroke-width="1.6"/>
<text x="185.3" y="90.6" textLength="14.8" lengthAdjust="spacingAndGlyphs" stroke="#000" stroke-width="0.3" style="font-size:15px">C8</text>
<text x="188" y="106.7" textLength="8" lengthAdjust="spacingAndGlyphs" stroke="#000" stroke-width="0.3" style="font-size:15px">.1</text>
<text x="177.7" y="162.6" textLength="13.8" lengthAdjust="spacingAndGlyphs" stroke="#000" stroke-width="0.3" style="font-size:15px">D1</text>
<text x="158.9" y="178.7" textLength="52.7" lengthAdjust="spacingAndGlyphs" font-weight="bold" stroke="#000" stroke-width="0.25" style="font-size:14.3px">1N4744A</text>
<text x="175.2" y="194.3" textLength="21.3" lengthAdjust="spacingAndGlyphs" stroke="#000" stroke-width="0.3" style="font-size:15px">15V</text>
<text x="53" y="271.3" textLength="12" lengthAdjust="spacingAndGlyphs" stroke="#000" stroke-width="0.3" style="font-size:15px">J1</text>
<text x="41.3" y="287.5" textLength="36.2" lengthAdjust="spacingAndGlyphs" stroke="#000" stroke-width="0.3" style="font-size:15px">INPUT</text>
<text x="98.8" y="270" textLength="13.7" lengthAdjust="spacingAndGlyphs" stroke="#000" stroke-width="0.3" style="font-size:15px">C1</text>
<text x="92.5" y="284.5" textLength="28.8" lengthAdjust="spacingAndGlyphs" stroke="#000" stroke-width="0.3" style="font-size:15px">10&#956;F</text>
<text x="141.3" y="276.1" textLength="22.4" lengthAdjust="spacingAndGlyphs" stroke="#000" stroke-width="0.3" style="font-size:15px">R24</text>
<text x="136.5" y="292.7" textLength="33.3" lengthAdjust="spacingAndGlyphs" stroke="#000" stroke-width="0.3" style="font-size:15px">2.05K</text>
<text x="190.2" y="276.1" textLength="22.6" lengthAdjust="spacingAndGlyphs" stroke="#000" stroke-width="0.3" style="font-size:15px">R25</text>
<text x="185.2" y="292.7" textLength="33.4" lengthAdjust="spacingAndGlyphs" stroke="#000" stroke-width="0.3" style="font-size:15px">2.05K</text>
<text x="100" y="350.5" textLength="16" lengthAdjust="spacingAndGlyphs" stroke="#000" stroke-width="0.3" style="font-size:15px">R1</text>
<text x="99" y="366.8" textLength="21" lengthAdjust="spacingAndGlyphs" stroke="#000" stroke-width="0.3" style="font-size:15px">10K</text>
<text x="194.5" y="359" textLength="15" lengthAdjust="spacingAndGlyphs" stroke="#000" stroke-width="0.3" style="font-size:15px">C2</text>
<text x="181" y="374" textLength="43" lengthAdjust="spacingAndGlyphs" stroke="#000" stroke-width="0.3" style="font-size:15px">1500pF</text>
<text x="61" y="415.3" textLength="14.8" lengthAdjust="spacingAndGlyphs" stroke="#000" stroke-width="0.3" style="font-size:15px">C3</text>
<text x="54.7" y="430.7" textLength="28.2" lengthAdjust="spacingAndGlyphs" stroke="#000" stroke-width="0.3" style="font-size:15px">68pF</text>
<text x="72.5" y="479" textLength="15" lengthAdjust="spacingAndGlyphs" stroke="#000" stroke-width="0.3" style="font-size:15px">R5</text>
<text x="62.5" y="495" textLength="33.5" lengthAdjust="spacingAndGlyphs" stroke="#000" stroke-width="0.3" style="font-size:15px">5.11K</text>
<text x="144.5" y="476.5" textLength="15.5" lengthAdjust="spacingAndGlyphs" stroke="#000" stroke-width="0.3" style="font-size:15px">R4</text>
<text x="136" y="492" textLength="33" lengthAdjust="spacingAndGlyphs" stroke="#000" stroke-width="0.3" style="font-size:15px">100&#937;</text>
<text x="138.8" y="528" textLength="16.2" lengthAdjust="spacingAndGlyphs" stroke="#000" stroke-width="0.3" style="font-size:15px">C7</text>
<text x="130" y="543" textLength="35.5" lengthAdjust="spacingAndGlyphs" stroke="#000" stroke-width="0.3" style="font-size:15px">100&#956;F</text>
<text x="226.3" y="500.8" textLength="15" lengthAdjust="spacingAndGlyphs" stroke="#000" stroke-width="0.3" style="font-size:15px">D2</text>
<text x="207" y="515.8" textLength="53" lengthAdjust="spacingAndGlyphs" font-weight="bold" stroke="#000" stroke-width="0.25" style="font-size:14.3px">1N4744A</text>
<text x="222.5" y="531.5" textLength="22.5" lengthAdjust="spacingAndGlyphs" stroke="#000" stroke-width="0.3" style="font-size:15px">15V</text>
<text x="302.5" y="518.3" textLength="14.5" lengthAdjust="spacingAndGlyphs" stroke="#000" stroke-width="0.3" style="font-size:15px">C9</text>
<text x="305" y="533.3" textLength="7" lengthAdjust="spacingAndGlyphs" stroke="#000" stroke-width="0.3" style="font-size:15px">.1</text>
<text x="374.3" y="503" textLength="15.7" lengthAdjust="spacingAndGlyphs" stroke="#000" stroke-width="0.3" style="font-size:15px">D4</text>
<text x="356.3" y="519.5" textLength="52.5" lengthAdjust="spacingAndGlyphs" font-weight="bold" stroke="#000" stroke-width="0.25" style="font-size:14.3px">1N4735A</text>
<text x="370.8" y="536.5" textLength="23.7" lengthAdjust="spacingAndGlyphs" stroke="#000" stroke-width="0.3" style="font-size:15px">7.5V</text>
<text x="433.8" y="513.5" textLength="22.5" lengthAdjust="spacingAndGlyphs" stroke="#000" stroke-width="0.3" style="font-size:15px">R11</text>
<text x="438.8" y="528.8" textLength="12.2" lengthAdjust="spacingAndGlyphs" stroke="#000" stroke-width="0.3" style="font-size:15px">1K</text>
<text x="306.8" y="423.8" textLength="15" lengthAdjust="spacingAndGlyphs" stroke="#000" stroke-width="0.3" style="font-size:15px">R3</text>
<text x="298" y="440.5" textLength="33" lengthAdjust="spacingAndGlyphs" stroke="#000" stroke-width="0.3" style="font-size:15px">2.05K</text>
<text x="347.5" y="423.8" textLength="23" lengthAdjust="spacingAndGlyphs" stroke="#000" stroke-width="0.3" style="font-size:15px">R27</text>
<text x="344.3" y="440.5" textLength="31.7" lengthAdjust="spacingAndGlyphs" stroke="#000" stroke-width="0.3" style="font-size:15px">100&#937;</text>
<text x="451.8" y="447.5" textLength="15.7" lengthAdjust="spacingAndGlyphs" stroke="#000" stroke-width="0.3" style="font-size:15px">Q2</text>
<text x="431.8" y="463.5" textLength="56.2" lengthAdjust="spacingAndGlyphs" font-weight="bold" stroke="#000" stroke-width="0.25" style="font-size:14.3px">MPS8098</text>
<text x="290" y="38.8" textLength="14" lengthAdjust="spacingAndGlyphs" stroke="#000" stroke-width="0.3" style="font-size:15px">D3</text>
<text x="270" y="54.5" textLength="53" lengthAdjust="spacingAndGlyphs" font-weight="bold" stroke="#000" stroke-width="0.25" style="font-size:14.3px">1N4735A</text>
<text x="283" y="73.8" textLength="23.8" lengthAdjust="spacingAndGlyphs" stroke="#000" stroke-width="0.3" style="font-size:15px">7.5V</text>
<text x="285.5" y="143.8" textLength="15" lengthAdjust="spacingAndGlyphs" stroke="#000" stroke-width="0.3" style="font-size:15px">R2</text>
<text x="276.8" y="159" textLength="33.2" lengthAdjust="spacingAndGlyphs" stroke="#000" stroke-width="0.3" style="font-size:15px">2.05K</text>
<text x="344" y="97.5" textLength="22.8" lengthAdjust="spacingAndGlyphs" stroke="#000" stroke-width="0.3" style="font-size:15px">R26</text>
<text x="340" y="113.3" textLength="32" lengthAdjust="spacingAndGlyphs" stroke="#000" stroke-width="0.3" style="font-size:15px">100&#937;</text>
<text x="453.1" y="118.2" textLength="13.5" lengthAdjust="spacingAndGlyphs" stroke="#000" stroke-width="0.3" style="font-size:15px">Q1</text>
<text x="432.7" y="133.9" textLength="55.8" lengthAdjust="spacingAndGlyphs" font-weight="bold" stroke="#000" stroke-width="0.25" style="font-size:14.3px">MPS8598</text>
<text x="435" y="46.3" textLength="16.8" lengthAdjust="spacingAndGlyphs" stroke="#000" stroke-width="0.3" style="font-size:15px">R8</text>
<text x="436.8" y="61.3" textLength="13.2" lengthAdjust="spacingAndGlyphs" stroke="#000" stroke-width="0.3" style="font-size:15px">1K</text>
<text x="294.3" y="237.8" textLength="15.7" lengthAdjust="spacingAndGlyphs" stroke="#000" stroke-width="0.3" style="font-size:15px">R6</text>
<text x="292.5" y="252.8" textLength="21" lengthAdjust="spacingAndGlyphs" stroke="#000" stroke-width="0.3" style="font-size:15px">10K</text>
<text x="375.5" y="236.5" textLength="15.5" lengthAdjust="spacingAndGlyphs" stroke="#000" stroke-width="0.3" style="font-size:15px">R7</text>
<text x="373" y="251.5" textLength="21.3" lengthAdjust="spacingAndGlyphs" stroke="#000" stroke-width="0.3" style="font-size:15px">10K</text>
<text x="460" y="217" textLength="21.8" lengthAdjust="spacingAndGlyphs" stroke="#000" stroke-width="0.3" style="font-size:15px">C10</text>
<text x="465" y="231.5" textLength="7" lengthAdjust="spacingAndGlyphs" stroke="#000" stroke-width="0.3" style="font-size:15px">.1</text>
<text x="473" y="263.5" textLength="15.8" lengthAdjust="spacingAndGlyphs" stroke="#000" stroke-width="0.3" style="font-size:15px">Q3</text>
<text x="452.5" y="278.8" textLength="55.5" lengthAdjust="spacingAndGlyphs" font-weight="bold" stroke="#000" stroke-width="0.25" style="font-size:14.3px">MPS8098</text>
<text x="267.3" y="291.5" textLength="6" lengthAdjust="spacingAndGlyphs" stroke="#000" stroke-width="0.3" style="font-size:15px">7</text>
<text x="286" y="303.3" textLength="5" lengthAdjust="spacingAndGlyphs" stroke="#000" stroke-width="0.3" style="font-size:15px">1</text>
<text x="306" y="315" textLength="6.3" lengthAdjust="spacingAndGlyphs" stroke="#000" stroke-width="0.3" style="font-size:15px">5</text>
<text x="324.8" y="325" textLength="6.2" lengthAdjust="spacingAndGlyphs" stroke="#000" stroke-width="0.3" style="font-size:15px">6</text>
<text x="240.5" y="299.5" textLength="6.3" lengthAdjust="spacingAndGlyphs" stroke="#000" stroke-width="0.3" style="font-size:15px">3</text>
<text x="240.5" y="348.3" textLength="6.3" lengthAdjust="spacingAndGlyphs" stroke="#000" stroke-width="0.3" style="font-size:15px">2</text>
<text x="269" y="373.3" textLength="6.3" lengthAdjust="spacingAndGlyphs" stroke="#000" stroke-width="0.3" style="font-size:15px">4</text>
<text x="266.5" y="321.5" textLength="17.5" lengthAdjust="spacingAndGlyphs" stroke="#000" stroke-width="0.3" style="font-size:15px">IC1</text>
<text x="253.5" y="337" textLength="44.5" lengthAdjust="spacingAndGlyphs" font-weight="bold" stroke="#000" stroke-width="0.25" style="font-size:14.3px">LF357N</text>
<text x="392.3" y="284.5" textLength="16.2" lengthAdjust="spacingAndGlyphs" stroke="#000" stroke-width="0.3" style="font-size:15px">R9</text>
<text x="383.5" y="300.8" textLength="33" lengthAdjust="spacingAndGlyphs" stroke="#000" stroke-width="0.3" style="font-size:15px">2.05K</text>
<text x="387.3" y="360.8" textLength="22.5" lengthAdjust="spacingAndGlyphs" stroke="#000" stroke-width="0.3" style="font-size:15px">R10</text>
<text x="382.3" y="375.8" textLength="33.7" lengthAdjust="spacingAndGlyphs" stroke="#000" stroke-width="0.3" style="font-size:15px">2.05K</text>
<text x="531.3" y="330" textLength="16.2" lengthAdjust="spacingAndGlyphs" stroke="#000" stroke-width="0.3" style="font-size:15px">Q4</text>
<text x="519.5" y="346.3" textLength="40.5" lengthAdjust="spacingAndGlyphs" font-weight="bold" stroke="#000" stroke-width="0.25" style="font-size:14.3px">IRF510</text>
<text x="541" y="213.8" textLength="22.5" lengthAdjust="spacingAndGlyphs" stroke="#000" stroke-width="0.3" style="font-size:15px">R16</text>
<text x="544.8" y="228.8" textLength="15" lengthAdjust="spacingAndGlyphs" stroke="#000" stroke-width="0.3" style="font-size:15px">5K</text>
<text x="587" y="335" textLength="23" lengthAdjust="spacingAndGlyphs" stroke="#000" stroke-width="0.3" style="font-size:15px">R17</text>
<text x="582.5" y="351.3" textLength="32.5" lengthAdjust="spacingAndGlyphs" stroke="#000" stroke-width="0.3" style="font-size:15px">2.05K</text>
<text x="611" y="139.5" textLength="15.5" lengthAdjust="spacingAndGlyphs" stroke="#000" stroke-width="0.3" style="font-size:15px">Q5</text>
<text x="591" y="155.5" textLength="56.3" lengthAdjust="spacingAndGlyphs" font-weight="bold" stroke="#000" stroke-width="0.25" style="font-size:14.3px">MPS8098</text>
<text x="610.5" y="427.5" textLength="15.8" lengthAdjust="spacingAndGlyphs" stroke="#000" stroke-width="0.3" style="font-size:15px">Q6</text>
<text x="590" y="443.8" textLength="56.3" lengthAdjust="spacingAndGlyphs" font-weight="bold" stroke="#000" stroke-width="0.25" style="font-size:14.3px">MPS8598</text>
<text x="611.5" y="67" textLength="22.5" lengthAdjust="spacingAndGlyphs" stroke="#000" stroke-width="0.3" style="font-size:15px">R12</text>
<text x="606" y="82.5" textLength="34.5" lengthAdjust="spacingAndGlyphs" stroke="#000" stroke-width="0.3" style="font-size:15px">511&#937;</text>
<text x="610" y="246.3" textLength="23.8" lengthAdjust="spacingAndGlyphs" stroke="#000" stroke-width="0.3" style="font-size:15px">R13</text>
<text x="606.3" y="262.5" textLength="33.2" lengthAdjust="spacingAndGlyphs" stroke="#000" stroke-width="0.3" style="font-size:15px">511&#937;</text>
<text x="666.3" y="320" textLength="23.2" lengthAdjust="spacingAndGlyphs" stroke="#000" stroke-width="0.3" style="font-size:15px">R14</text>
<text x="662" y="336.3" textLength="32.5" lengthAdjust="spacingAndGlyphs" stroke="#000" stroke-width="0.3" style="font-size:15px">511&#937;</text>
<text x="613" y="505" textLength="22" lengthAdjust="spacingAndGlyphs" stroke="#000" stroke-width="0.3" style="font-size:15px">R15</text>
<text x="608" y="520.8" textLength="33.3" lengthAdjust="spacingAndGlyphs" stroke="#000" stroke-width="0.3" style="font-size:15px">511&#937;</text>
<text x="714.8" y="34.5" textLength="16.2" lengthAdjust="spacingAndGlyphs" stroke="#000" stroke-width="0.3" style="font-size:15px">D5</text>
<text x="696" y="51.3" textLength="52.8" lengthAdjust="spacingAndGlyphs" font-weight="bold" stroke="#000" stroke-width="0.25" style="font-size:14.3px">1N4737A</text>
<text x="709.8" y="67" textLength="26.2" lengthAdjust="spacingAndGlyphs" stroke="#000" stroke-width="0.3" style="font-size:15px">7.5V</text>
<text x="693.5" y="97.5" textLength="23" lengthAdjust="spacingAndGlyphs" stroke="#000" stroke-width="0.3" style="font-size:15px">R20</text>
<text x="687.3" y="113.8" textLength="35.7" lengthAdjust="spacingAndGlyphs" stroke="#000" stroke-width="0.3" style="font-size:15px">20.5&#937;</text>
<text x="734.5" y="159.5" textLength="15.5" lengthAdjust="spacingAndGlyphs" stroke="#000" stroke-width="0.3" style="font-size:15px">Q7</text>
<text x="717.5" y="175" textLength="50" lengthAdjust="spacingAndGlyphs" font-weight="bold" stroke="#000" stroke-width="0.25" style="font-size:14.3px">IRF9640</text>
<text x="820.5" y="81.3" textLength="15.8" lengthAdjust="spacingAndGlyphs" stroke="#000" stroke-width="0.3" style="font-size:15px">Q8</text>
<text x="802.5" y="96.3" textLength="50" lengthAdjust="spacingAndGlyphs" font-weight="bold" stroke="#000" stroke-width="0.25" style="font-size:14.3px">IRF9640</text>
<text x="691.3" y="202.5" textLength="22.5" lengthAdjust="spacingAndGlyphs" stroke="#000" stroke-width="0.3" style="font-size:15px">R21</text>
<text x="685" y="218.8" textLength="36.3" lengthAdjust="spacingAndGlyphs" stroke="#000" stroke-width="0.3" style="font-size:15px">20.5&#937;</text>
<text x="758.8" y="203.8" textLength="15" lengthAdjust="spacingAndGlyphs" stroke="#000" stroke-width="0.3" style="font-size:15px">C4</text>
<text x="746.3" y="220" textLength="42.5" lengthAdjust="spacingAndGlyphs" stroke="#000" stroke-width="0.3" style="font-size:15px">1500pF</text>
<text x="757.5" y="262.5" textLength="22.5" lengthAdjust="spacingAndGlyphs" stroke="#000" stroke-width="0.3" style="font-size:15px">R18</text>
<text x="757.5" y="278" textLength="25" lengthAdjust="spacingAndGlyphs" stroke="#000" stroke-width="0.3" style="font-size:15px">1.5K</text>
<text x="742.5" y="307.5" textLength="23.8" lengthAdjust="spacingAndGlyphs" stroke="#000" stroke-width="0.3" style="font-size:15px">R19</text>
<text x="738.8" y="323.8" textLength="31.7" lengthAdjust="spacingAndGlyphs" stroke="#000" stroke-width="0.3" style="font-size:15px">100&#937;</text>
<text x="937.5" y="46.3" textLength="16" lengthAdjust="spacingAndGlyphs" stroke="#000" stroke-width="0.3" style="font-size:15px">C5</text>
<text x="940" y="61.3" textLength="7" lengthAdjust="spacingAndGlyphs" stroke="#000" stroke-width="0.3" style="font-size:15px">.1</text>
<text x="913" y="152.9" textLength="10.8" lengthAdjust="spacingAndGlyphs" stroke="#000" stroke-width="0.3" style="font-size:15px">F1</text>
<text x="896.5" y="168.8" textLength="46.1" lengthAdjust="spacingAndGlyphs" stroke="#000" stroke-width="0.3" style="font-size:15px">4 AMPS</text>
<text x="932.3" y="200" textLength="32.5" lengthAdjust="spacingAndGlyphs" stroke="#000" stroke-width="0.3" style="font-size:15px">+ 47V</text>
<text x="901.5" y="310.3" textLength="48.3" lengthAdjust="spacingAndGlyphs" stroke="#000" stroke-width="0.3" style="font-size:15px">OUTPUT</text>
<text x="928.5" y="386.5" textLength="32.5" lengthAdjust="spacingAndGlyphs" stroke="#000" stroke-width="0.3" style="font-size:15px">&#8211; 47V</text>
<text x="913" y="421.3" textLength="13" lengthAdjust="spacingAndGlyphs" stroke="#000" stroke-width="0.3" style="font-size:15px">F2</text>
<text x="896" y="437.5" textLength="46.3" lengthAdjust="spacingAndGlyphs" stroke="#000" stroke-width="0.3" style="font-size:15px">4 AMPS</text>
<text x="692.5" y="364" textLength="22.5" lengthAdjust="spacingAndGlyphs" stroke="#000" stroke-width="0.3" style="font-size:15px">R23</text>
<text x="685.5" y="381.3" textLength="36.5" lengthAdjust="spacingAndGlyphs" stroke="#000" stroke-width="0.3" style="font-size:15px">20.5&#937;</text>
<text x="738.8" y="412" textLength="15.7" lengthAdjust="spacingAndGlyphs" stroke="#000" stroke-width="0.3" style="font-size:15px">Q9</text>
<text x="725.5" y="428" textLength="41.5" lengthAdjust="spacingAndGlyphs" font-weight="bold" stroke="#000" stroke-width="0.25" style="font-size:14.3px">IRF640</text>
<text x="693" y="471.3" textLength="22.8" lengthAdjust="spacingAndGlyphs" stroke="#000" stroke-width="0.3" style="font-size:15px">R22</text>
<text x="686.3" y="488" textLength="36.2" lengthAdjust="spacingAndGlyphs" stroke="#000" stroke-width="0.3" style="font-size:15px">20.5&#937;</text>
<text x="713.8" y="512.5" textLength="16.2" lengthAdjust="spacingAndGlyphs" stroke="#000" stroke-width="0.3" style="font-size:15px">D6</text>
<text x="696.3" y="528.3" textLength="52.5" lengthAdjust="spacingAndGlyphs" font-weight="bold" stroke="#000" stroke-width="0.25" style="font-size:14.3px">1N4737A</text>
<text x="709.5" y="543.3" textLength="24.3" lengthAdjust="spacingAndGlyphs" stroke="#000" stroke-width="0.3" style="font-size:15px">7.5V</text>
<text x="820.5" y="491.3" textLength="22" lengthAdjust="spacingAndGlyphs" stroke="#000" stroke-width="0.3" style="font-size:15px">Q10</text>
<text x="811.3" y="506.3" textLength="40.7" lengthAdjust="spacingAndGlyphs" font-weight="bold" stroke="#000" stroke-width="0.25" style="font-size:14.3px">IRF640</text>
<text x="937.3" y="521.5" textLength="16.2" lengthAdjust="spacingAndGlyphs" stroke="#000" stroke-width="0.3" style="font-size:15px">C6</text>
<text x="940.5" y="536.5" textLength="6.5" lengthAdjust="spacingAndGlyphs" stroke="#000" stroke-width="0.3" style="font-size:15px">.1</text>
</svg>
</body></html>
